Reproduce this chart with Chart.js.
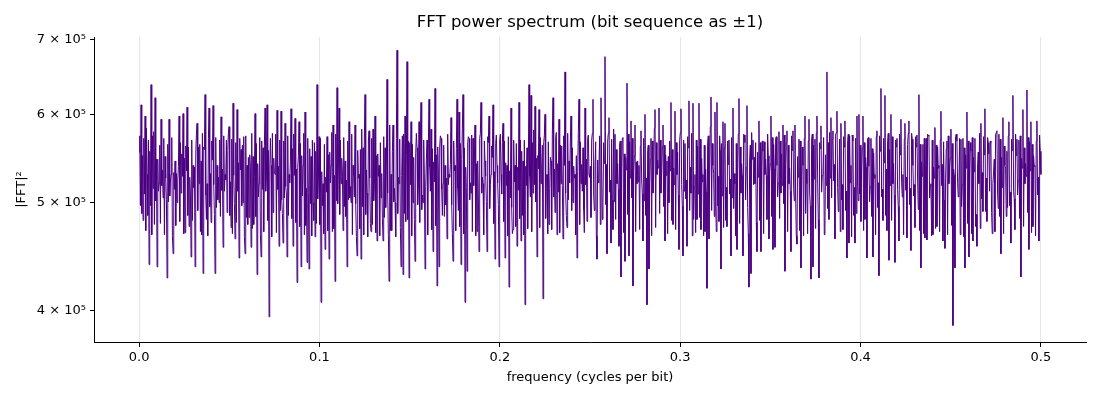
<!DOCTYPE html>
<html>
<head>
<meta charset="utf-8">
<script src="https://cdn.jsdelivr.net/npm/chart.js@4/dist/chart.umd.min.js"></script>
<style>
  html, body { margin: 0; padding: 0; background: #fff; }
  canvas { display: block; }
</style>
</head>
<body>
<canvas id="myChart" width="1100" height="400"></canvas>
<script>
// |FFT|^2, in thousands (spikes placed where the picture has them,
// the dense band in between estimated), from f = 0 up to f = 0.5
const powerK = [
  555,574,497,612,489,551,482,571,509,598,472,583,530,487,569,440,556,497,638,468,574,515,579,478,621,502,547,438,547,512,
  520,563,479,594,518,535,505,571,468,550,526,503,428,564,501,594,507,522,530,572,467,450,532,514,545,477,531,500,523,539,
  598,481,566,510,553,528,601,469,548,470,562,534,609,487,561,476,527,509,447,569,482,540,516,538,438,553,576,589,492,561,
  520,564,471,545,468,577,432,561,558,625,508,483,520,467,571,608,496,531,480,568,546,611,519,488,432,572,495,540,503,527,
  500,569,486,597,513,536,456,574,512,530,524,569,490,557,577,585,487,522,475,570,469,614,529,499,464,566,480,606,512,543,
  446,571,535,558,497,563,500,573,466,450,574,485,540,478,549,485,552,539,456,577,474,550,478,528,601,486,565,431,542,506,
  520,572,468,447,568,514,560,471,563,608,512,525,612,482,557,395,534,571,540,466,577,490,548,531,530,576,470,605,514,539,
  457,569,492,604,503,489,460,568,505,589,517,509,447,574,487,530,521,544,607,484,559,457,576,529,595,480,536,424,538,551,
  591,476,565,438,551,507,540,577,468,603,477,515,442,571,511,436,559,499,550,467,569,500,482,566,466,556,479,638,504,525,
  573,478,571,407,533,497,520,469,564,454,527,511,573,472,552,445,555,521,540,578,471,587,474,529,425,576,502,634,499,537,
  608,488,569,520,548,534,472,572,496,545,486,524,438,568,503,591,505,517,500,576,468,540,529,506,587,499,466,448,557,526,
  530,474,558,445,582,496,560,468,575,625,488,535,510,466,568,580,526,479,471,571,478,582,502,518,598,470,551,462,553,528,
  540,467,566,505,531,484,462,573,485,560,495,539,645,510,468,425,587,472,530,472,556,587,501,515,500,466,571,685,489,527,
  520,570,475,438,529,574,431,576,489,598,481,551,669,483,568,428,566,519,591,467,564,500,549,483,443,553,577,560,498,514,
  591,480,568,615,493,508,500,569,526,436,517,546,569,468,565,619,538,512,582,473,559,452,544,522,633,477,552,421,561,535,
  438,561,574,571,514,487,520,563,486,540,498,526,464,576,519,530,527,541,596,498,469,443,568,534,540,472,559,619,515,492,
  603,476,565,440,547,583,625,469,560,407,538,516,434,566,573,571,503,521,510,575,471,571,518,544,587,467,542,471,545,508,
  452,571,577,615,510,527,520,468,568,545,528,501,452,573,566,598,494,519,530,562,549,612,479,533,445,565,575,540,521,498,
  438,568,576,530,509,566,589,481,568,446,543,518,540,467,573,420,534,505,608,495,469,473,569,522,540,476,565,457,538,513,
  615,484,569,462,556,487,545,468,569,405,539,518,560,474,544,638,528,506,624,471,566,510,581,519,610,501,548,447,551,536,
  606,475,572,520,537,563,410,566,574,600,484,528,530,469,567,478,515,549,545,473,576,621,506,536,490,572,578,468,542,511,
  594,470,563,520,562,518,464,574,540,655,510,487,475,577,503,545,521,569,598,492,560,500,539,526,530,468,551,446,533,578,
  619,478,567,520,541,512,560,493,470,608,519,547,481,571,575,530,527,539,485,569,577,619,508,492,540,567,467,445,546,521,
  540,574,478,621,535,483,500,566,542,676,498,541,450,568,577,596,511,524,460,570,503,473,582,501,576,483,558,520,542,514,
  457,565,568,429,537,571,572,470,553,443,549,535,640,488,576,448,567,526,592,505,571,421,534,551,587,471,544,520,545,522,
  540,473,562,580,524,509,462,571,502,600,487,526,405,557,563,436,520,547,571,467,568,510,529,583,606,475,566,530,546,537,
  608,489,569,510,531,561,587,496,563,462,552,529,545,469,550,500,568,534,615,482,558,478,537,519,604,473,566,530,555,508,
  454,568,578,607,519,497,448,569,512,565,504,524,457,573,560,617,492,538,510,577,467,614,483,517,530,470,569,483,562,509,
  614,485,570,473,548,522,530,467,563,471,536,511,419,566,574,464,527,585,622,492,565,540,531,486,603,501,471,615,497,528,
  481,574,557,436,565,507,591,475,560,589,482,516,476,568,541,569,509,525,448,572,505,608,494,531,520,467,565,454,534,576,
  620,479,561,510,542,529,448,576,575,566,503,538,611,495,469,420,546,563,432,578,547,569,519,549,520,566,480,452,555,527,
  592,482,566,452,539,568,556,469,567,530,547,529,483,576,551,464,533,542,598,486,572,454,564,536,456,571,573,540,506,521,
  579,484,568,510,553,518,587,499,575,434,541,566,580,471,563,520,537,512,452,574,557,580,515,502,587,508,467,459,550,527,
  570,472,568,437,528,561,540,467,571,598,489,536,520,469,568,594,510,497,427,569,576,438,563,525,570,474,577,598,526,483,
  428,566,559,586,511,529,530,572,468,475,552,518,655,494,566,483,578,526,596,505,570,580,523,541,464,575,578,604,516,491,
  520,570,471,589,503,519,473,573,561,592,492,512,446,567,576,460,574,521,540,466,575,568,487,516,460,571,489,598,517,502,
  600,509,563,481,536,559,598,472,566,483,549,538,446,571,572,539,501,517,571,486,559,447,554,526,530,468,573,580,495,521,
  430,574,556,633,506,514,482,571,543,624,487,536,472,567,577,444,558,518,600,482,573,520,542,508,442,569,561,571,514,496,
  462,576,552,594,521,506,530,468,570,589,513,527,465,564,577,592,498,515,453,577,570,540,507,519,475,573,561,575,524,493,
  625,472,564,437,544,528,564,469,571,465,535,571,463,576,574,575,505,518,520,467,569,468,538,526,584,474,563,476,561,537,
  540,471,569,604,518,541,462,567,503,455,526,559,568,468,574,520,539,548,582,477,565,388,536,529,437,573,576,568,521,506,
  520,571,468,570,496,519,571,466,560,437,552,537,603,479,568,447,537,566,556,469,572,462,549,533,571,476,488,457,541,555,
  520,577,474,589,504,532,491,573,552,607,491,526,481,572,566,553,512,568,566,490,469,520,533,547,471,575,578,580,509,494,
  576,486,570,450,549,516,596,469,562,540,537,486,556,495,574,591,497,511,460,570,557,624,512,504,473,576,551,570,508,523,
  569,484,574,429,548,537,606,476,560,520,542,528,631,490,572,454,567,534,591,470,564,476,551,539,540,467,568,592,508,527,462,575,556,
  530
];
// frequency bins run evenly from 0 to 0.5 cycles per bit
const freqs = powerK.map((v, i) => i * 0.5 / (powerK.length - 1));

const xTicks = [0, 0.1, 0.2, 0.3, 0.4, 0.5];
const yTicks = [400000, 500000, 600000, 700000];
const yTickLabels = ['4 × 10⁵', '5 × 10⁵', '6 × 10⁵', '7 × 10⁵'];
const titleText = 'FFT power spectrum (bit sequence as ±1)';

const points = [];
for (let i = 0; i < powerK.length; i++) {
  points.push({ x: freqs[i], y: powerK[i] * 1000 });
}

const fontFamily = '"DejaVu Sans", sans-serif';

const whiteBg = {
  id: 'whiteBg',
  beforeDraw(chart) {
    const c = chart.ctx;
    c.save();
    c.fillStyle = '#ffffff';
    c.fillRect(0, 0, chart.width, chart.height);
    c.restore();
  }
};

// title centred over the axes, like matplotlib does
const axesTitle = {
  id: 'axesTitle',
  afterDraw(chart) {
    const c = chart.ctx;
    const a = chart.chartArea;
    c.save();
    c.fillStyle = '#000';
    c.font = '16.5px ' + fontFamily;
    c.textAlign = 'center';
    c.textBaseline = 'middle';
    c.fillText(titleText, (a.left + a.right) / 2, 23);
    c.restore();
  }
};

const ctx = document.getElementById('myChart');
new Chart(ctx, {
  type: 'line',
  data: {
    datasets: [{
      data: points,
      borderColor: '#4b0082',
      borderWidth: 1,
      pointRadius: 0,
      tension: 0,
      fill: false
    }]
  },
  options: {
    responsive: false,
    animation: false,
    devicePixelRatio: 1,
    layout: { padding: { top: 37, left: 0, right: 14, bottom: 0 } },
    plugins: {
      legend: { display: false },
      tooltip: { enabled: false },
      title: { display: false }
    },
    scales: {
      x: {
        type: 'linear',
        min: -0.025,
        max: 0.525,
        afterBuildTicks: (scale) => { scale.ticks = xTicks.map(v => ({ value: v })); },
        afterFit: (scale) => { scale.height = 58; },
        ticks: {
          color: '#000',
          font: { family: fontFamily, size: 13 },
          padding: 3,
          maxRotation: 0,
          callback: (v) => Number(v).toFixed(1)
        },
        grid: {
          color: '#e6e6e6',
          lineWidth: 1,
          drawOnChartArea: true,
          tickColor: '#000',
          tickLength: 5
        },
        border: { display: true, color: '#000', width: 1 },
        title: {
          display: true,
          text: 'frequency (cycles per bit)',
          color: '#000',
          font: { family: fontFamily, size: 13 },
          padding: { top: 0, bottom: 15 }
        }
      },
      y: {
        type: 'logarithmic',
        min: 375000,
        max: 704000,
        afterBuildTicks: (scale) => { scale.ticks = yTicks.map(v => ({ value: v })); },
        afterFit: (scale) => { scale.width = 94; },
        ticks: {
          color: '#000',
          font: { family: fontFamily, size: 13 },
          padding: 4,
          callback: (v) => {
            const k = yTicks.indexOf(v);
            return k >= 0 ? yTickLabels[k] : '';
          }
        },
        grid: {
          drawOnChartArea: false,
          tickColor: '#000',
          tickLength: 4
        },
        border: { display: true, color: '#000', width: 1 },
        title: {
          display: true,
          text: '|FFT|²',
          color: '#000',
          font: { family: fontFamily, size: 13 },
          padding: { top: 14, bottom: 0 }
        }
      }
    }
  },
  plugins: [whiteBg, axesTitle]
});
</script>
</body>
</html>
